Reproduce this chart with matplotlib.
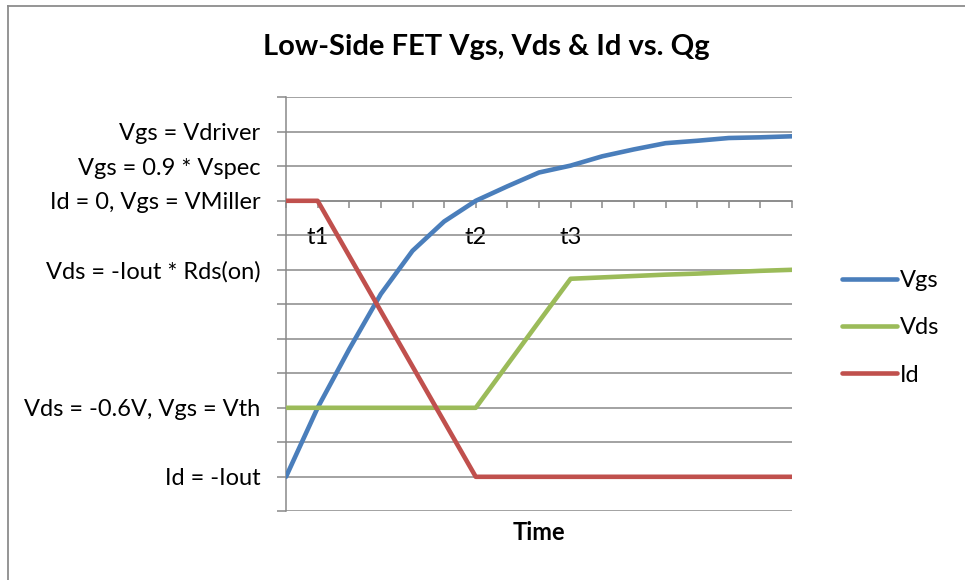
import matplotlib
matplotlib.use("Agg")
import matplotlib.pyplot as plt
from matplotlib.lines import Line2D

plt.rcParams['font.family'] = ['Lato', 'DejaVu Sans']

# ---- data ----
x_labels = ["", "t1", "", "", "", "", "t2", "", "", "t3", "", "", "", "", "", "", ""]
vgs = [1.0, 3.0, 4.7, 6.3, 7.55, 8.4, 9.0, 9.42, 9.82, 10.02, 10.29, 10.49, 10.67, 10.74, 10.82, 10.84, 10.87]
vds = [3.0, 3.0, 3.0, 3.0, 3.0, 3.0, 3.0, 4.25, 5.5, 6.74, 6.78, 6.82, 6.86, 6.89, 6.93, 6.97, 7.0]
idc = [9.0, 9.0, 7.4, 5.8, 4.2, 2.6, 1.0, 1.0, 1.0, 1.0, 1.0, 1.0, 1.0, 1.0, 1.0, 1.0, 1.0]
series_names = ["Vgs", "Vds", "Id"]
y_tick_values = [0, 1, 2, 3, 4, 5, 6, 7, 8, 9, 10, 11, 12]
y_tick_labels = ["", "Id = -Iout", "", "Vds = -0.6V, Vgs = Vth", "", "", "",
                 "Vds = -Iout * Rds(on)", "", "Id = 0, Vgs = VMiller",
                 "Vgs = 0.9 * Vspec", "Vgs = Vdriver", ""]
title = "Low-Side FET Vgs, Vds & Id vs. Qg"
x_title = "Time"

colors = ["#4A7EBB", "#9BBB59", "#C0504D"]
grid_col = "#898989"

W, H = 965, 580
fig = plt.figure(figsize=(W / 100, H / 100), dpi=100)
ax = fig.add_axes([286 / W, 1 - 511.3 / H, (792 - 286) / W, (511.3 - 97.3) / H])

xs = list(range(len(x_labels)))
for vals, name, c in zip([vgs, vds, idc], series_names, colors):
    ax.plot(xs, vals, color=c, lw=3.3, label=name,
            solid_capstyle='round', solid_joinstyle='round', zorder=3)

ax.set_xlim(0, len(x_labels) - 1)
ax.set_ylim(0, 12)
ax.set_yticks(y_tick_values)
ax.set_yticklabels(y_tick_labels)
ax.set_xticks(xs)
ax.set_xticklabels(x_labels)

ax.yaxis.grid(True, color=grid_col, lw=1.1, zorder=1)
ax.set_axisbelow(True)
for s in ['top', 'right']:
    ax.spines[s].set_visible(False)
ax.spines['bottom'].set_position(('data', 9))
ax.spines['bottom'].set_color(grid_col)
ax.spines['bottom'].set_linewidth(1.1)
ax.spines['left'].set_color(grid_col)
ax.spines['left'].set_linewidth(1.1)

fs = 17
ax.tick_params(axis='y', direction='out', length=6.5, width=1.1, color=grid_col,
               pad=12, labelsize=fs, labelcolor='black')
ax.tick_params(axis='x', direction='out', length=5, width=1.1, color=grid_col,
               pad=14, labelsize=fs, labelcolor='black')

fig.text(486 / W, 1 - 46.5 / H, title, ha='center', va='center',
         fontsize=21, fontweight='bold')
fig.text(539 / W, 1 - 533 / H, x_title, ha='center', va='center',
         fontsize=fs, fontweight='bold')

fs_px = fs * 100 / 72
leg = ax.legend(loc='center left', bbox_to_anchor=(842 / W, 1 - 328 / H),
                bbox_transform=fig.transFigure, frameon=False, fontsize=fs,
                handlelength=55 / fs_px, handletextpad=3 / fs_px,
                labelspacing=1.11, borderpad=0, borderaxespad=0)

# chart border (left and top visible)
fig.add_artist(Line2D([7.5 / W, 7.5 / W], [0, 1 - 5.5 / H], color="#8c8c8c", lw=1.3,
                      transform=fig.transFigure))
fig.add_artist(Line2D([7.5 / W, 1], [1 - 5.5 / H, 1 - 5.5 / H], color="#8c8c8c", lw=1.3,
                      transform=fig.transFigure))

fig.savefig("out.png", dpi=100)
